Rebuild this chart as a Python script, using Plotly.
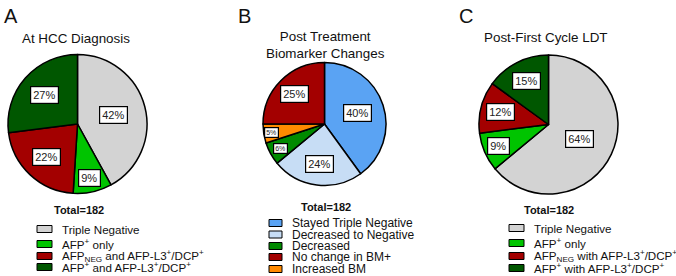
import math
import plotly.graph_objects as go

W, H = 676, 276
FONT = "Liberation Sans, Arial, sans-serif"

# ---------------- data ----------------
a_labels = ["Triple Negative", "AFP+ only", "AFPneg and AFP-L3+/DCP+", "AFP+ and AFP-L3+/DCP+"]
a_values = [42, 9, 22, 27]
a_legend = ["Triple Negative",
            "AFP<sup>+</sup> only",
            "AFP<sub>NEG</sub> and AFP-L3<sup>+</sup>/DCP<sup>+</sup>",
            "AFP<sup>+</sup> and AFP-L3<sup>+</sup>/DCP<sup>+</sup>"]

b_labels = ["Stayed Triple Negative", "Decreased to Negative", "Decreased", "Increased BM", "No change in BM+"]
b_values = [40, 24, 6, 5, 25]
b_legend = ["Stayed Triple Negative", "Decreased to Negative", "Decreased", "No change in BM+", "Increased BM"]

c_labels = ["Triple Negative", "AFP+ only", "AFPneg with AFP-L3+/DCP+", "AFP+ with AFP-L3+/DCP+"]
c_values = [64, 9, 12, 15]
c_legend = ["Triple Negative",
            "AFP<sup>+</sup> only",
            "AFP<sub>NEG</sub> with AFP-L3<sup>+</sup>/DCP<sup>+</sup>",
            "AFP<sup>+</sup> with AFP-L3<sup>+</sup>/DCP<sup>+</sup>"]

total_text = "Total=182"

# ---------------- styles ----------------
GRAY, LGREEN, DRED, DGREEN = "#d3d3d3", "#00c400", "#a30000", "#005700"
BLUE, LBLUE, BGREEN, ORANGE = "#5aa3f3", "#c7ddf5", "#008a00", "#ff8a00"

a_colors = [GRAY, LGREEN, DRED, DGREEN]
b_colors = {"Stayed Triple Negative": BLUE, "Decreased to Negative": LBLUE, "Decreased": BGREEN,
            "Increased BM": ORANGE, "No change in BM+": DRED}
c_colors = [GRAY, LGREEN, DRED, DGREEN]

panels = [
    dict(letter="A", lx=2, title="At HCC Diagnosis", tx=76, ty=[39], cx=77.5, cy=124, r=69.5,
         labels=a_labels, values=a_values, colors=a_colors, frac=[0.53, 0.79, 0.66, 0.64],
         lfont=[11, 11, 11, 11], totx=79, toty=210,
         legend=a_legend, legcolors=a_colors, legx=37, legw=15, legy=[229, 244, 256, 267], legfs=11.6),
    dict(letter="B", lx=236, title="Post Treatment<br>Biomarker Changes", tx=325, ty=[45], cx=324.5, cy=124, r=61.5,
         labels=b_labels, values=b_values, colors=[b_colors[l] for l in b_labels],
         frac=[0.56, 0.66, 0.82, 0.87, 0.69], lfont=[11, 11, 7, 7, 11], totx=326, toty=207,
         legend=b_legend, legcolors=[b_colors[l] for l in b_legend], legx=269, legw=13,
         legy=[223, 234.5, 246, 257, 269], legfs=12),
    dict(letter="C", lx=457, title="Post-First Cycle LDT", tx=546, ty=[38], cx=548.5, cy=124.5, r=69.5,
         labels=c_labels, values=c_values, colors=c_colors, frac=[0.49, 0.78, 0.72, 0.70],
         lfont=[11, 11, 11, 11], totx=549, toty=210,
         legend=c_legend, legcolors=c_colors, legx=509, legw=15, legy=[228, 243, 256, 268], legfs=11.6),
]


def px(x):
    return x / W


def py(y):
    return 1 - y / H


fig = go.Figure()
annotations = []
shapes = []

for p in panels:
    cx, cy, r = p["cx"], p["cy"], p["r"]
    fig.add_trace(go.Pie(
        labels=p["labels"], values=p["values"], sort=False, direction="clockwise", rotation=0,
        marker=dict(colors=p["colors"], line=dict(color="black", width=1.5)),
        textinfo="none", hoverinfo="label+percent", showlegend=False,
        domain=dict(x=[px(cx - r), px(cx + r)], y=[py(cy + r), py(cy - r)]),
    ))
    # percentage boxes
    tot = sum(p["values"])
    cum = 0
    for v, f, fs in zip(p["values"], p["frac"], p["lfont"]):
        mid = (cum + v / 2) / tot * 2 * math.pi
        cum += v
        x = cx + f * r * math.sin(mid)
        y = cy - f * r * math.cos(mid)
        annotations.append(dict(
            x=px(x), y=py(y), xref="paper", yref="paper", showarrow=False,
            text=f"{round(v / tot * 100)}%", font=dict(family=FONT, size=fs, color="#222"),
            bgcolor="white", bordercolor="black", borderwidth=1.2,
            borderpad=2 if fs > 8 else 1, xanchor="center", yanchor="middle"))
    # letters and titles
    annotations.append(dict(x=px(p["lx"]), y=py(16), xref="paper", yref="paper", showarrow=False,
                            text=p["letter"], font=dict(family=FONT, size=20, color="#111"),
                            xanchor="left", yanchor="middle"))
    annotations.append(dict(x=px(p["tx"]), y=py(p["ty"][0]), xref="paper", yref="paper", showarrow=False,
                            text=p["title"], font=dict(family=FONT, size=13.4, color="#111"),
                            xanchor="center", yanchor="middle"))
    annotations.append(dict(x=px(p["totx"]), y=py(p["toty"]), xref="paper", yref="paper", showarrow=False,
                            text=f"<b>{total_text}</b>", font=dict(family=FONT, size=11, color="#111"),
                            xanchor="center", yanchor="middle"))
    # legend
    for txt, col, ly in zip(p["legend"], p["legcolors"], p["legy"]):
        shapes.append(dict(type="rect", xref="paper", yref="paper",
                           x0=px(p["legx"]), x1=px(p["legx"] + p["legw"]),
                           y0=py(ly + 3.5), y1=py(ly - 3.5),
                           fillcolor=col, line=dict(color="black", width=1)))
        annotations.append(dict(x=px(p["legx"] + p["legw"] + 8), y=py(ly), xref="paper", yref="paper",
                                showarrow=False, text=txt,
                                font=dict(family=FONT, size=p["legfs"], color="#111"),
                                xanchor="left", yanchor="middle"))

fig.update_layout(
    width=W, height=H, margin=dict(l=0, r=0, t=0, b=0),
    paper_bgcolor="white", plot_bgcolor="white",
    annotations=annotations, shapes=shapes, showlegend=False,
)

fig.write_html("out.html", config={"displayModeBar": False},
               post_script="document.body.style.margin='0';document.body.style.overflow='hidden';")
